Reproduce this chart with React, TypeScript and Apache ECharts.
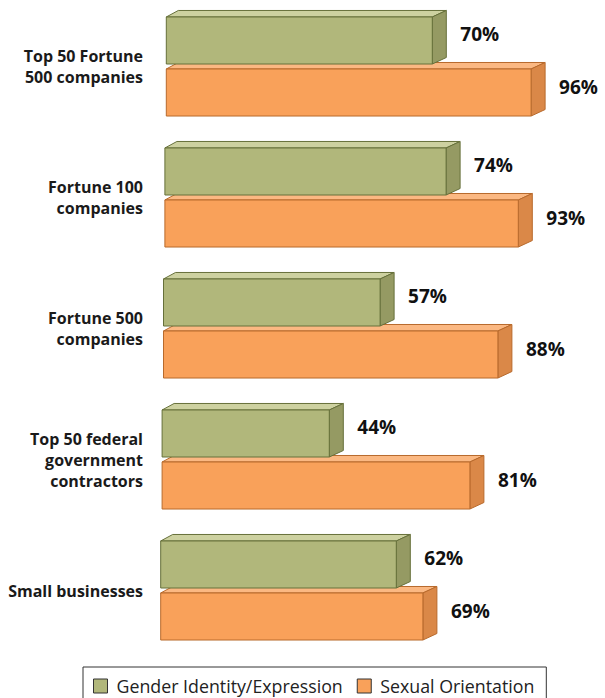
import React, { useEffect, useRef } from "react";
import * as echarts from "echarts";

const categories = [
  "Top 50 Fortune\n500 companies",
  "Fortune 100\ncompanies",
  "Fortune 500\ncompanies",
  "Top 50 federal\ngovernment\ncontractors",
  "Small businesses",
];
const genderIdentity = [70, 74, 57, 44, 62];
const sexualOrientation = [96, 93, 88, 81, 69];
const seriesNames = ["Gender Identity/Expression", "Sexual Orientation"];

const FONT = "'Open Sans', 'Noto Sans', sans-serif";

const palettes = [
  { front: "#B1B77B", top: "#CDD1A0", side: "#959A63", stroke: "#66703A" },
  { front: "#F9A15A", top: "#FBB882", side: "#DA8848", stroke: "#B86A2C" },
];

function makeRender(which: number) {
  const pal = palettes[which];
  return (params: any, api: any) => {
    const v = api.value(0);
    const c = api.value(1);
    const cs = params.coordSys;
    const [xEnd, yc] = api.coord([v, c]);
    const [xStart] = api.coord([0, c]);
    const band = api.size([0, 1])[1];
    const shift = 3 - (7 * (yc - cs.y)) / cs.height;
    const x0 = xStart + shift;
    const x1 = xEnd + shift;
    const h = band * 0.359;
    const gap = band * 0.019;
    const yT = which === 0 ? yc - gap - h : yc + gap;
    const yB = yT + h;
    const dx = 14;
    const dy = 6.5;
    return {
      type: "group",
      children: [
        {
          type: "polygon",
          shape: { points: [[x0, yT], [x0 + dx - 2, yT - dy], [x1 + dx, yT - dy], [x1, yT]] },
          style: { fill: pal.top, stroke: pal.stroke, lineWidth: 1 },
        },
        {
          type: "polygon",
          shape: { points: [[x1, yT], [x1 + dx, yT - dy], [x1 + dx, yB - dy], [x1, yB]] },
          style: { fill: pal.side, stroke: pal.stroke, lineWidth: 1 },
        },
        {
          type: "rect",
          shape: { x: x0, y: yT, width: x1 - x0, height: h },
          style: { fill: pal.front, stroke: pal.stroke, lineWidth: 1 },
        },
        {
          type: "text",
          x: x1 + 28,
          y: (yT + yB) / 2 - 6,
          style: {
            text: `${v}%`,
            fill: "#111",
            font: `bold 19px ${FONT}`,
            verticalAlign: "middle",
            align: "left",
          },
        },
      ],
    };
  };
}

export default function App() {
  const ref = useRef<HTMLDivElement>(null);
  useEffect(() => {
    if (!ref.current) return;
    const chart = echarts.init(ref.current, null, { renderer: "svg" });
    chart.setOption({
      animation: false,
      backgroundColor: "#fff",
      grid: { left: 164, width: 380, top: 1, height: 655 },
      xAxis: { type: "value", min: 0, max: 100, show: false },
      yAxis: {
        type: "category",
        data: categories,
        inverse: true,
        axisLine: { show: false },
        axisTick: { show: false },
        splitLine: { show: false },
        axisLabel: {
          margin: 21,
          color: "#1a1a1a",
          fontFamily: FONT,
          fontWeight: "bold",
          fontSize: 16,
          lineHeight: 21,
          align: "right",
          padding: [6, 0, 0, 0],
        },
      },
      legend: {
        left: 83,
        top: 667,
        padding: [10, 12, 10, 10],
        borderColor: "#333",
        borderWidth: 1,
        itemWidth: 14,
        itemHeight: 14,
        itemGap: 14,
        icon: "rect",
        textStyle: { fontFamily: FONT, fontSize: 17.8, color: "#222", padding: [0, 0, 0, 4] },
        data: [
          { name: seriesNames[0], itemStyle: { color: palettes[0].front, borderColor: "#333", borderWidth: 1 } },
          { name: seriesNames[1], itemStyle: { color: palettes[1].front, borderColor: "#333", borderWidth: 1 } },
        ],
      },
      series: [
        {
          type: "custom",
          name: seriesNames[1],
          z: 2,
          itemStyle: { color: palettes[1].front },
          encode: { x: 0, y: 1 },
          data: sexualOrientation.map((v, i) => [v, i]),
          renderItem: makeRender(1),
        },
        {
          type: "custom",
          name: seriesNames[0],
          z: 3,
          itemStyle: { color: palettes[0].front },
          encode: { x: 0, y: 1 },
          data: genderIdentity.map((v, i) => [v, i]),
          renderItem: makeRender(0),
        },
      ],
    });
    return () => chart.dispose();
  }, []);
  return (
    <div
      ref={ref}
      style={{ position: "fixed", left: 0, top: 0, width: 605, height: 698 }}
    />
  );
}
